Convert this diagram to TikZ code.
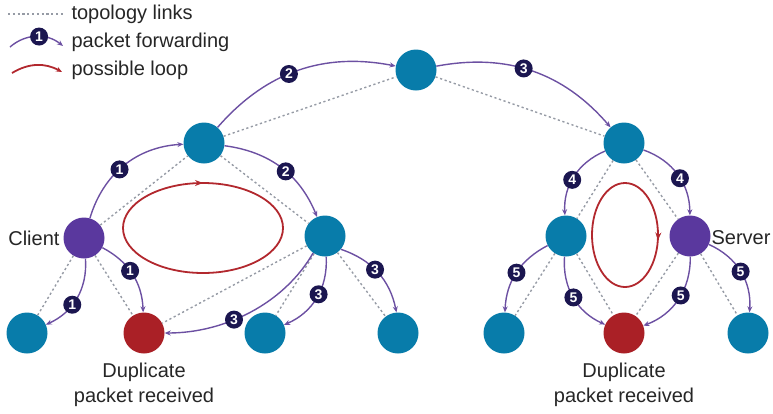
\documentclass[tikz,border=0pt]{standalone}
\usepackage{fontspec}
\setmainfont{Liberation Sans}
\usetikzlibrary{arrows.meta,decorations.markings}
\definecolor{tealn}{RGB}{8,124,170}
\definecolor{purn}{RGB}{90,56,158}
\definecolor{redn}{RGB}{170,32,38}
\definecolor{fwd}{RGB}{108,80,162}
\definecolor{navy}{RGB}{27,22,80}
\definecolor{topo}{RGB}{150,155,165}
\definecolor{loopc}{RGB}{178,40,46}
\tikzset{
  net/.style={circle, minimum size=41pt, inner sep=0pt, fill=tealn},
  host/.style={net, fill=purn},
  dup/.style={net, fill=redn},
  topolink/.style={draw=topo, line width=1.4pt, dash pattern=on 2.2pt off 2.6pt},
  fw/.style={draw=fwd, line width=1.4pt, -{Stealth[length=6pt,width=5pt]}},
  badge/.style={circle, fill=navy, text=white, inner sep=0pt, minimum size=18pt, font=\fontsize{14}{14}\selectfont\bfseries},
  lbl/.style={font=\fontsize{20}{25}\selectfont, text=black!85},
  loopline/.style={draw=loopc, line width=1.8pt},
}
\begin{document}
\begin{tikzpicture}[x=1pt,y=-1pt]
\useasboundingbox (0,0) rectangle (773,413);
% nodes
\node[net] (T) at (416,70) {};
\node[net] (L1) at (204,143) {};
\node[host] (C) at (84,238) {};
\node[net] (M) at (325,236) {};
\node[net] (B1) at (27,333) {};
\node[dup] (D1) at (144,333) {};
\node[net] (B2) at (265,333) {};
\node[net] (B3) at (398,333) {};
\node[net] (R) at (624,143) {};
\node[net] (RL) at (566,236) {};
\node[host] (S) at (690,236) {};
\node[net] (B4) at (504,333) {};
\node[dup] (D2) at (624,333) {};
\node[net] (B5) at (748,333) {};
% labels
\node[lbl, anchor=east] (cl) at (63,238) {Client};
\node[lbl, anchor=west] (sl) at (708,238) {Server};
\node[lbl, align=center] (dl1) at (144,385) {Duplicate\\packet received};
\node[lbl, align=center] (dl2) at (624,385) {Duplicate\\packet received};
% topology links
\draw[topolink] (L1) -- (T);
\draw[topolink] (T) -- (R);
\draw[topolink] (C) -- (L1);
\draw[topolink] (L1) -- (M);
\draw[topolink] (C) -- (B1);
\draw[topolink] (C) -- (D1);
\draw[topolink] (M) -- (D1);
\draw[topolink] (M) -- (B2);
\draw[topolink] (M) -- (B3);
\draw[topolink] (R) -- (RL);
\draw[topolink] (R) -- (S);
\draw[topolink] (RL) -- (B4);
\draw[topolink] (RL) -- (D2);
\draw[topolink] (S) -- (D2);
\draw[topolink] (S) -- (B5);
% forwarding
\draw[fw] (C) to[bend left=35] node[badge, pos=0.45] {1} (L1);
\draw[fw] (C) to[bend left=30] node[badge, pos=0.45] {1} (D1);
\draw[fw] (C) to[bend left=35] node[badge, pos=0.6] {1} (B1);
\draw[fw] (L1) to[bend left=30] node[badge, pos=0.45] {2} (T);
\draw[fw] (L1) to[bend left=30] node[badge, pos=0.55] {2} (M);
\draw[fw] (T) to[bend left=30] node[badge, pos=0.45] {3} (R);
\draw[fw] (M.235) to[out=240, in=0, looseness=0.9] node[badge, pos=0.6] {3} (D1.east);
\draw[fw] (M) to[bend left=35] node[badge, pos=0.45] {3} (B2);
\draw[fw] (M.320) to[bend left=30] node[badge, pos=0.45] {3} (B3);
\draw[fw] (R) to[bend right=35] node[badge, pos=0.55] {4} (RL);
\draw[fw] (R) to[bend left=35] node[badge, pos=0.55] {4} (S);
\draw[fw] (RL) to[bend right=30] node[badge, pos=0.5] {5} (B4);
\draw[fw] (RL) to[bend right=35] node[badge, pos=0.5] {5} (D2);
\draw[fw] (S) to[bend left=35] node[badge, pos=0.45] {5} (D2);
\draw[fw] (S) to[bend left=35] node[badge, pos=0.5] {5} (B5);
% loops
\draw[loopline, postaction={decorate}, decoration={markings, mark=at position 0.75 with {\arrow{Stealth[length=8pt,width=6pt]}}}] (203,228) ellipse [x radius=80, y radius=45];
\draw[loopline, postaction={decorate}, decoration={markings, mark=at position 0.02 with {\arrow{Stealth[length=8pt,width=6pt]}}}] (625,235) ellipse [x radius=33, y radius=52];
% legend
\coordinate (la) at (8,14);
\coordinate (lb) at (64,14);
\draw[topolink] (la) -- (lb);
\node[lbl, anchor=west] (t1) at (68,14) {topology links};
\coordinate (pa) at (10,47);
\coordinate (pb) at (63,46);
\draw[fw] (pa) to[bend left=40] node[badge, pos=0.55] {1} (pb);
\node[lbl, anchor=west] (t2) at (68,42) {packet forwarding};
\coordinate (ra) at (12,73);
\coordinate (rb) at (62,72);
\draw[loopline, -{Stealth[length=6pt,width=5pt]}] (ra) to[bend left=30] (rb);
\node[lbl, anchor=west] (t3) at (68,70) {possible loop};
\end{tikzpicture}
\end{document}
